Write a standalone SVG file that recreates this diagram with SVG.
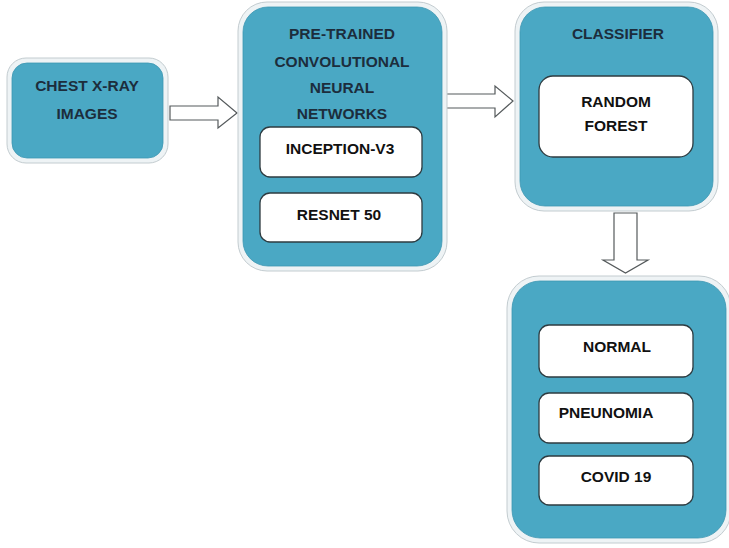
<svg xmlns="http://www.w3.org/2000/svg" width="729" height="548" viewBox="0 0 729 548">
<style>
.ring{fill:#eef3f5;stroke:#c3ccd0;stroke-width:1}
.blue{fill:#4aa8c4;stroke:#3e97b2;stroke-width:0.8}
.inner{fill:#ffffff;stroke:#2e3b40;stroke-width:1.3}
.arrow{fill:#ffffff;stroke:#555a5c;stroke-width:1.2;stroke-linejoin:miter}
text{font-family:"Liberation Sans",Arial,sans-serif;font-weight:bold;font-size:15.5px;text-anchor:middle}
.tb{fill:#1c2d3c}
.tk{fill:#111111}
</style>
<rect width="729" height="548" fill="#ffffff"/>
<g id="connectors">
<polygon class="arrow" points="170,106 218,106 218,97 237,113 218,128 218,120 170,120"/>
<polygon class="arrow" points="443,94 495,94 495,86 513,101 495,117 495,108 443,108"/>
<polygon class="arrow" points="614,213 637,213 637,260 648,260 625.5,273 603,260 614,260"/>
</g>
<g id="chest-xray">
<rect class="ring" x="7" y="58" width="161" height="105" rx="19"/>
<rect class="blue" x="12" y="63" width="151" height="95" rx="15"/>
<text class="tb" x="87" y="91">CHEST X-RAY</text>
<text class="tb" x="87" y="118.5">IMAGES</text>
</g>
<g id="cnn">
<rect class="ring" x="238" y="2" width="209" height="269" rx="29"/>
<rect class="blue" x="243" y="7" width="199" height="259" rx="25"/>
<text class="tb" x="342" y="39">PRE-TRAINED</text>
<text class="tb" x="342" y="66.5">CONVOLUTIONAL</text>
<text class="tb" x="342" y="93">NEURAL</text>
<text class="tb" x="342" y="119">NETWORKS</text>
<g id="inception">
<rect class="inner" x="260" y="127" width="162" height="50" rx="10"/>
<text class="tk" x="340" y="154">INCEPTION-V3</text>
</g>
<g id="resnet">
<rect class="inner" x="260" y="193" width="162" height="49" rx="10"/>
<text class="tk" x="339" y="220">RESNET 50</text>
</g>
</g>
<g id="classifier">
<rect class="ring" x="515" y="2" width="203" height="209" rx="29"/>
<rect class="blue" x="520" y="7" width="193" height="199" rx="25"/>
<text class="tb" x="618" y="38.5">CLASSIFIER</text>
<g id="random-forest">
<rect class="inner" x="539" y="76" width="154" height="81" rx="14"/>
<text class="tk" x="616" y="107">RANDOM</text>
<text class="tk" x="616" y="131">FOREST</text>
</g>
</g>
<g id="output">
<rect class="ring" x="507" y="276" width="224" height="267" rx="32"/>
<rect class="blue" x="512" y="281" width="214" height="257" rx="28"/>
<g id="normal">
<rect class="inner" x="539" y="325" width="154" height="52" rx="10"/>
<text class="tk" x="617" y="352">NORMAL</text>
</g>
<g id="pneunomia">
<rect class="inner" x="539" y="393" width="154" height="50" rx="10"/>
<text class="tk" x="606" y="418">PNEUNOMIA</text>
</g>
<g id="covid">
<rect class="inner" x="539" y="456" width="154" height="49" rx="10"/>
<text class="tk" x="616" y="482">COVID 19</text>
</g>
</g>
</svg>
